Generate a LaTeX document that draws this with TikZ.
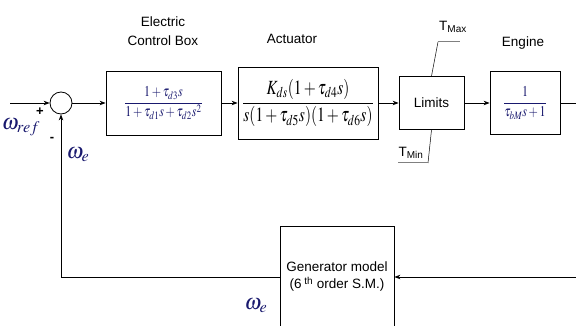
\documentclass[tikz,border=0pt]{standalone}
\usepackage{amsmath}
\usepackage{mathptmx}
\usepackage[no-math]{fontspec}
\setmainfont{Liberation Sans}
\usepackage{tikz}
\usetikzlibrary{arrows.meta, calc}
\definecolor{navy}{RGB}{25,25,110}

\begin{document}
\begin{tikzpicture}[x=1pt, y=-1pt, >={Stealth[length=6pt, width=4.5pt]}, line width=0.8pt,
  block/.style={draw, line width=0.8pt, inner sep=0pt},
  sumnode/.style={draw, circle, line width=0.8pt, minimum size=22pt, inner sep=0pt},
  lbl/.style={font=\fontsize{13.5}{19}\selectfont, align=center, inner sep=1pt},
  omega/.style={font=\fontsize{22}{24}\selectfont, text=navy, inner sep=0pt}]
  \useasboundingbox (0,0) rectangle (576,326);

  \node[sumnode] (sum) at (61,103) {};
  \node[block, minimum width=115pt, minimum height=64pt] (ecb) at (163.5,103)
    {\scalebox{1}[1.25]{\fontsize{12}{14}\selectfont\color{navy}$\dfrac{1+\tau_{d3}s}{1+\tau_{d1}s+\tau_{d2}s^{2}}$}};
  \node[block, minimum width=140pt, minimum height=72pt] (act) at (308,103)
    {\scalebox{1}[1.3]{\fontsize{15.5}{18}\selectfont$\dfrac{K_{ds}(1+\tau_{d4}s)}{s(1+\tau_{d5}s)(1+\tau_{d6}s)}$}};
  \node[block, minimum width=65pt, minimum height=53pt, font=\fontsize{13.5}{16}\selectfont] (lim) at (431.5,103) {Limits};
  \node[block, minimum width=70pt, minimum height=63pt] (eng) at (525,103)
    {\scalebox{1}[1.25]{\fontsize{12}{14}\selectfont\color{navy}$\dfrac{1}{\tau_{bM}s+1}$}};
  \node[block, minimum width=114pt, minimum height=102pt, align=center,
    font=\fontsize{13.5}{17}\selectfont] (gen) at (337,277)
    {Generator model\\(6\textsuperscript{ th} order S.M.)};

  \coordinate (in) at (10,103);
  \coordinate (out) at (578,103);
  \coordinate (tmax) at (438,42);
  \coordinate (tmin) at (428,163);

  \draw[->] (in) -- (sum);
  \draw[->] (sum) -- (ecb);
  \draw[->] (ecb) -- (act);
  \draw[->] (act) -- (lim);
  \draw[->] (lim) -- (eng);
  \draw[->] (eng) -- (out) |- (gen);
  \draw[->] (gen) -| (sum);

  \draw[line width=0.5pt] (lim.north) -- (tmax);
  \draw[gray, line width=1pt] (tmax) -- ++(22,0);
  \draw[line width=0.5pt] (lim.south) -- (tmin);
  \draw[gray, line width=1pt] (tmin) -- ++(-30,0);

  \node[lbl] (ecbl) at (163,31) {Electric\\Control Box};
  \node[lbl] (actl) at (292,39) {Actuator};
  \node[lbl] (engl) at (523,43) {Engine};
  \node[lbl] (tmaxl) at (453,27) {T\textsubscript{Max}};
  \node[lbl] (tminl) at (411,153) {T\textsubscript{Min}};

  \node[font=\bfseries\fontsize{13}{13}\selectfont, inner sep=0pt] (plus) at (40,112) {+};
  \node[font=\bfseries\fontsize{13}{13}\selectfont, inner sep=0pt] (minus) at (52,139) {-};
  \node[omega] (wref) at (21,127) {$\omega_{ref}$};
  \node[omega] (we) at (78,155) {$\omega_{e}$};
  \node[omega] (we2) at (256,306) {$\omega_{e}$};
\end{tikzpicture}
\end{document}
